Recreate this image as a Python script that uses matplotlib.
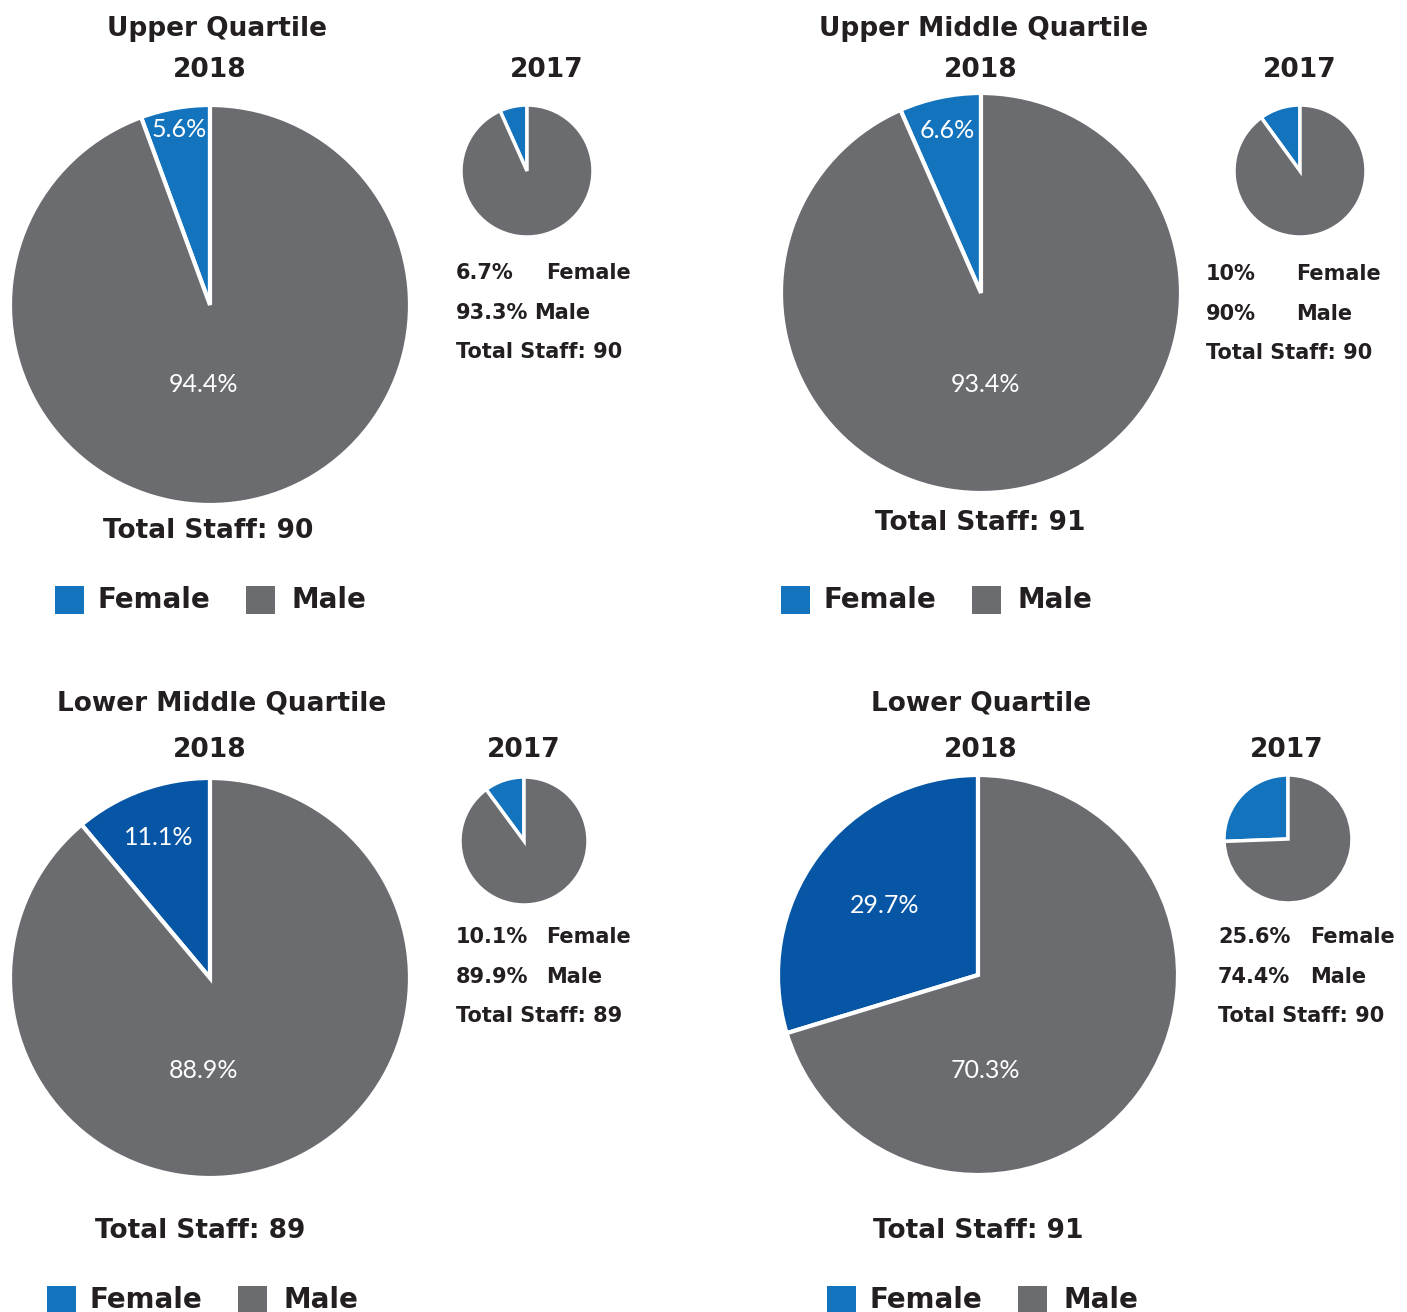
import numpy as np
from matplotlib import pyplot as plt
from matplotlib.patches import Rectangle

W, H = 1407, 1312

quartiles = ["Upper Quartile", "Upper Middle Quartile", "Lower Middle Quartile", "Lower Quartile"]
female_2018 = [5.6, 6.6, 11.1, 29.7]
male_2018 = [94.4, 93.4, 88.9, 70.3]
total_2018 = [90, 91, 89, 91]
female_2017 = [6.7, 10, 10.1, 25.6]
male_2017 = [93.3, 90, 89.9, 74.4]
total_2017 = [90, 90, 89, 90]
female_2017_txt = ["6.7%", "10%", "10.1%", "25.6%"]
male_2017_txt = ["93.3%", "90%", "89.9%", "74.4%"]

BLUE = "#1373bd"
DARK_BLUE = "#0656a5"
GREY = "#6b6c70"
TEXT = "#231f20"

# layout in pixels (x, y from top)
big_centers = [(210, 305), (981, 293), (210, 978), (978, 975)]
big_r = 200
small_centers = [(527, 171), (1300, 171), (524, 841), (1288, 839)]
small_r = [66, 66, 64, 64]
female_colors = [BLUE, BLUE, DARK_BLUE, DARK_BLUE]
female_lab_r = [0.89, 0.83, 0.75, 0.58]
male_lab_off = [(-6, 0.40), (4, 0.46), (-6, 0.465), (7, 0.48)]

title_pos = [(217, 29), (984, 29), (222, 703), (981, 703)]
y2018_pos = [(210, 70), (981, 70), (210, 750), (981, 750)]
y2017_pos = [(547, 70), (1300, 70), (524, 750), (1287, 750)]
side_pos = [(456, 273, 546, 534), (1206, 274, 1296, 1296), (456, 937, 546, 546), (1218, 937, 1310, 1310)]
total_pos = [(208, 531), (980, 523), (200, 1231), (978, 1231)]
legend_pos = [(55, 600), (781, 600), (47, 1300), (827, 1300)]

plt.rcParams['font.family'] = ['DejaVu Sans']

fig = plt.figure(figsize=(W / 100, H / 100), dpi=100)
ax = fig.add_axes([0, 0, 1, 1])


def Y(y):
    return H - y


for i in range(4):
    cx, cy = big_centers[i]
    wedges, _ = ax.pie([female_2018[i], male_2018[i]], colors=[female_colors[i], GREY],
                       startangle=90, counterclock=True, center=(cx, Y(cy)), radius=big_r,
                       wedgeprops=dict(edgecolor="white", linewidth=3))
    w = wedges[0]
    mid = np.deg2rad((w.theta1 + w.theta2) / 2)
    fr = female_lab_r[i] * big_r
    ax.text(cx + fr * np.cos(mid), Y(cy) + fr * np.sin(mid), "%.1f%%" % female_2018[i],
            color="white", fontsize=18, ha="center", va="center",
            family=["Lato", "DejaVu Sans"], zorder=5)
    mdx, mdy = male_lab_off[i]
    ax.text(cx + mdx, Y(cy) - mdy * big_r, "%.1f%%" % male_2018[i],
            color="white", fontsize=18, ha="center", va="center",
            family=["Lato", "DejaVu Sans"], zorder=5)

    sx, sy = small_centers[i]
    ax.pie([female_2017[i], male_2017[i]], colors=[BLUE, GREY],
           startangle=90, counterclock=True, center=(sx, Y(sy)), radius=small_r[i],
           wedgeprops=dict(edgecolor="white", linewidth=2.5))

    tx, ty = title_pos[i]
    ax.text(tx, Y(ty), quartiles[i], fontsize=19, fontweight="bold", color=TEXT,
            ha="center", va="center")
    ax.text(y2018_pos[i][0], Y(y2018_pos[i][1]), "2018", fontsize=19, fontweight="bold",
            color=TEXT, ha="center", va="center")
    ax.text(y2017_pos[i][0], Y(y2017_pos[i][1]), "2017", fontsize=19, fontweight="bold",
            color=TEXT, ha="center", va="center")

    x0, y0, xf, xm = side_pos[i]
    ax.text(x0, Y(y0), female_2017_txt[i], fontsize=15, fontweight="bold", color=TEXT, va="center")
    ax.text(xf, Y(y0), "Female", fontsize=15, fontweight="bold", color=TEXT, va="center")
    ax.text(x0, Y(y0 + 40), male_2017_txt[i], fontsize=15, fontweight="bold", color=TEXT, va="center")
    ax.text(xm, Y(y0 + 40), "Male", fontsize=15, fontweight="bold", color=TEXT, va="center")
    ax.text(x0, Y(y0 + 79), "Total Staff: %d" % total_2017[i], fontsize=15, fontweight="bold",
            color=TEXT, va="center")

    ax.text(total_pos[i][0], Y(total_pos[i][1]), "Total Staff: %d" % total_2018[i], fontsize=19,
            fontweight="bold", color=TEXT, ha="center", va="center")

    lx, ly = legend_pos[i]
    ax.add_patch(Rectangle((lx, Y(ly) - 14), 29, 28, color=BLUE, lw=0))
    ax.text(lx + 42, Y(ly), "Female", fontsize=20, fontweight="bold", color=TEXT, va="center")
    ax.add_patch(Rectangle((lx + 191, Y(ly) - 14), 29, 28, color=GREY, lw=0))
    ax.text(lx + 237, Y(ly), "Male", fontsize=20, fontweight="bold", color=TEXT, va="center")

ax.set_xlim(0, W)
ax.set_ylim(0, H)
ax.set_aspect("auto")
ax.axis("off")

fig.savefig("out.png", dpi=100, facecolor="white")
